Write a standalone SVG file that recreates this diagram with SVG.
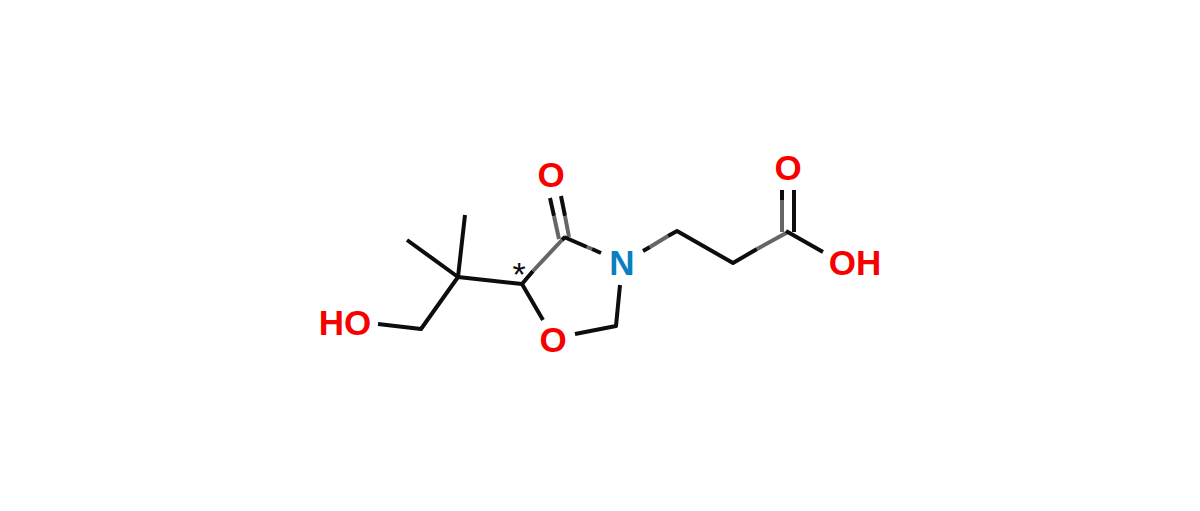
<svg xmlns="http://www.w3.org/2000/svg" width="1200" height="511" viewBox="0 0 1200 511">
<style>
.b{stroke:#0d0d0d;stroke-width:4;stroke-linecap:butt;stroke-linejoin:round;fill:none}
.g{stroke:#666;stroke-width:4;stroke-linecap:butt;fill:none}
text{font-family:"Liberation Sans",Arial,sans-serif;font-size:35px;font-weight:700;text-anchor:middle}
.r{fill:#f80000}
</style>
<rect width="1200" height="511" fill="#fff"/>
<g id="connectors">
<path class="b" d="M378 324L421 329L458 277L407 240M458 277L465 215M458 277L522 284"/>
<path class="b" d="M522 284L543 320M522 284L533 271"/>
<path class="g" d="M533 271L562 240"/>
<path class="b" d="M562 240L565 237"/>
<path class="b" d="M550 198L554 216M561 196L565 216"/>
<path class="g" d="M554 216L559 239M565 216L569 237"/>
<path class="b" d="M564 237L587 247"/>
<path class="g" d="M587 247L592 249"/>
<path class="b" d="M592 249L601 253"/>
<path class="b" d="M643 251L650 247"/>
<path class="g" d="M650 247L668 236"/>
<path class="b" d="M668 236L677 231L733 263L757 249"/>
<path class="g" d="M757 249L788 232"/>
<path class="b" d="M620 285L616 326L575 334"/>
<path class="b" d="M782 190V200"/>
<path class="g" d="M782 200V232"/>
<path class="b" d="M794 190V232M786 231L823 252"/>
</g>
<g id="atom-o1"><text class="r" x="551" y="187">O</text></g>
<g id="atom-n"><text x="622" y="275" fill="#0a7fc0">N</text></g>
<g id="atom-o2"><text class="r" x="553" y="352">O</text></g>
<g id="atom-o3"><text class="r" x="788" y="180">O</text></g>
<g id="atom-oh"><text class="r" x="855" y="275">OH</text></g>
<g id="atom-ho"><text class="r" x="345" y="335">HO</text></g>
<g id="stereo"><text x="519" y="286" fill="#0d0d0d" style="font-size:34px;font-weight:400">*</text></g>
</svg>
